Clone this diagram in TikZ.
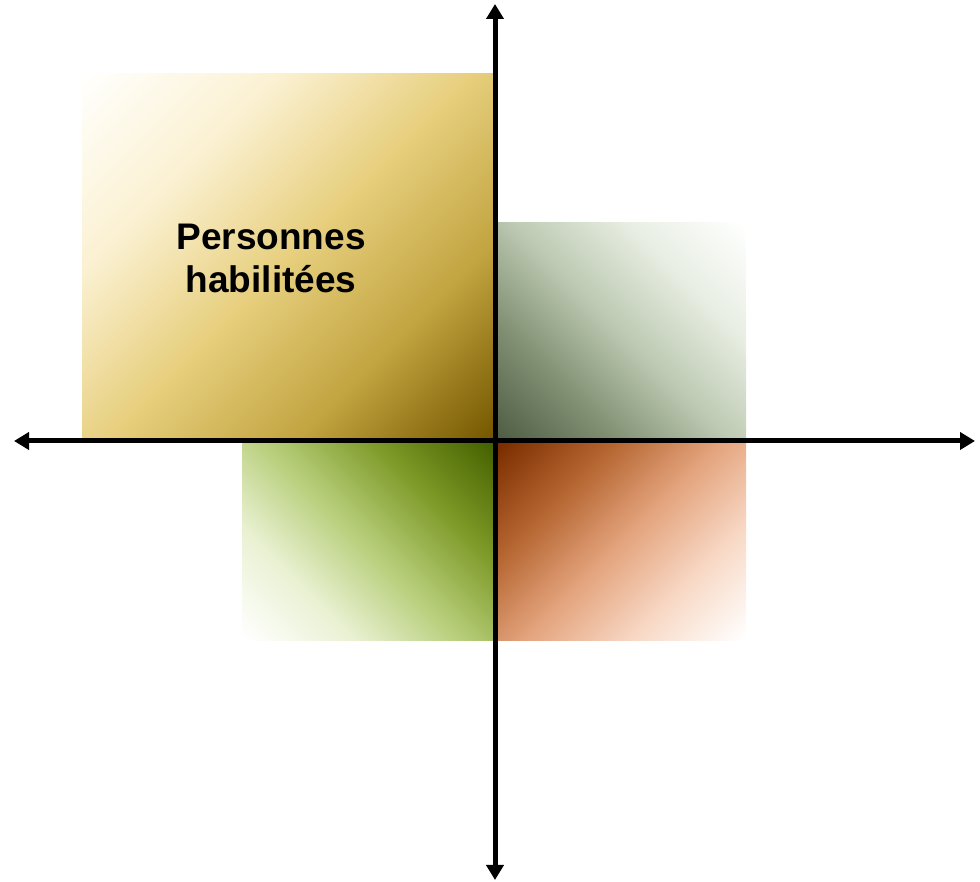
\documentclass[tikz,border=0pt]{standalone}
\usepackage{fontspec}
\setmainfont{Liberation Sans}
\usetikzlibrary{arrows.meta}
\definecolor{goldA}{HTML}{FFFFFC}
\definecolor{goldB}{HTML}{FBF1D2}
\definecolor{goldC}{HTML}{E7CF7E}
\definecolor{goldD}{HTML}{C2A440}
\definecolor{goldE}{HTML}{765800}
\definecolor{sageA}{HTML}{505F44}
\definecolor{sageB}{HTML}{829174}
\definecolor{sageC}{HTML}{BECAB3}
\definecolor{sageD}{HTML}{E8EEE3}
\definecolor{oliveB}{HTML}{E9F1D2}
\definecolor{oliveC}{HTML}{B6CD78}
\definecolor{oliveD}{HTML}{7C9826}
\definecolor{oliveE}{HTML}{466200}
\definecolor{rustA}{HTML}{7A2E00}
\definecolor{rustB}{HTML}{B4642F}
\definecolor{rustC}{HTML}{E4A47E}
\definecolor{rustD}{HTML}{F8D9C6}
\pgfdeclarehorizontalshading{goldsh}{100bp}{color(0bp)=(goldA); color(15bp)=(goldA); color(32.5bp)=(goldB); color(50bp)=(goldC); color(67.5bp)=(goldD); color(85bp)=(goldE); color(100bp)=(goldE)}
\pgfdeclarehorizontalshading{sagesh}{100bp}{color(0bp)=(sageA); color(15bp)=(sageA); color(32.5bp)=(sageB); color(50bp)=(sageC); color(67.5bp)=(sageD); color(85bp)=(white); color(100bp)=(white)}
\pgfdeclarehorizontalshading{olivesh}{100bp}{color(0bp)=(white); color(15bp)=(white); color(32.5bp)=(oliveB); color(50bp)=(oliveC); color(67.5bp)=(oliveD); color(85bp)=(oliveE); color(100bp)=(oliveE)}
\pgfdeclarehorizontalshading{rustsh}{100bp}{color(0bp)=(rustA); color(15bp)=(rustA); color(32.5bp)=(rustB); color(50bp)=(rustC); color(67.5bp)=(rustD); color(85bp)=(white); color(100bp)=(white)}
\tikzset{
  axisline/.style={line width=5pt, draw=black, {Triangle[width=17pt,length=15pt]}-{Triangle[width=17pt,length=15pt]}},
  lbl/.style={font=\fontsize{37}{43}\selectfont\bfseries, align=center, text=black}
}
\begin{document}
\begin{tikzpicture}[x=1pt,y=1pt]
\useasboundingbox (0,0) rectangle (980,882);
% quadrant rectangles
\shade[shading=goldsh, shading angle=-45] (82,442) rectangle (494,808);
\shade[shading=sagesh, shading angle=45] (497,444) rectangle (746,659);
\shade[shading=olivesh, shading angle=45] (242,241) rectangle (494,438);
\shade[shading=rustsh, shading angle=-45] (497,241) rectangle (746,438);
% label
\node[lbl] (pers) at (271,624) {Personnes\\habilitées};
% axes
\coordinate (xl) at (14,441);
\coordinate (xr) at (975,441);
\coordinate (yt) at (495,878);
\coordinate (yb) at (495,2);
\draw[axisline] (xl) -- (xr);
\draw[axisline] (yt) -- (yb);
\end{tikzpicture}
\end{document}
